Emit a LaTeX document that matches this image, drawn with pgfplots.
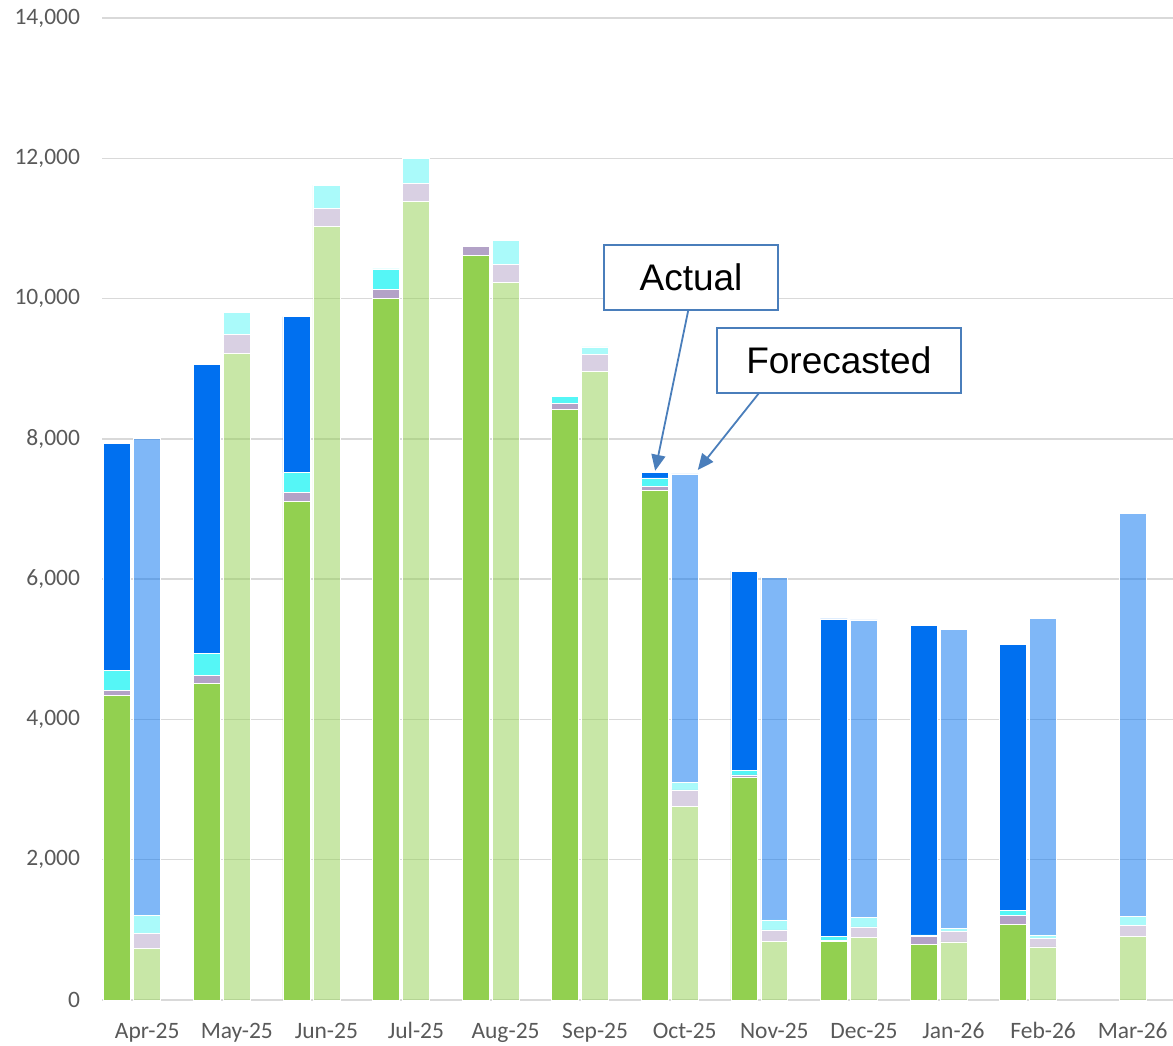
\documentclass[border=0pt]{standalone}
\usepackage{fontspec}
\setmainfont{Carlito}
\newfontfamily\arialfont{Liberation Sans}
\usepackage{pgfplots}
\pgfplotsset{compat=1.18}
\usepackage{pgfplotstable}
\usetikzlibrary{arrows.meta}

\definecolor{cGreen}{HTML}{92D050}
\definecolor{cPurple}{HTML}{B3A2C7}
\definecolor{cCyan}{HTML}{55F6F6}
\definecolor{cBlue}{HTML}{0070F0}
\definecolor{gridgray}{HTML}{D9D9D9}
\definecolor{labelgray}{HTML}{595959}
\definecolor{calloutblue}{HTML}{4A7EBB}

% actual, Apr-25 .. Feb-26
\pgfplotstableread{
i  g     p    c    b
0  4339  70   285  3243
1  4515  109  318  4125
2  7104  129  285  2224
3  10003 133  286  0
4  10617 123  0    0
5  8421  81   105  0
6  7267  52   123  81
7  3175  33   71   2837
8  836   19   48   4529
9  789   114  24   4414
10 1074  128  76   3797
}\actual

% forecasted, Apr-25 .. Mar-26
\pgfplotstableread{
i  g     p    c    b
0  732   214  266  6800
1  9214  272  318  0
2  11030 261  328  0
3  11381 257  362  0
4  10226 257  342  0
5  8963  242  105  0
6  2761  233  105  4400
7  836   162  143  4889
8  889   152  138  4239
9  827   152  43   4267
10 756   123  48   4519
11 908   161  119  5750
}\forecast

\pgfplotsset{
  base/.style={
    scale only axis, width=535.3pt, height=491pt,
    at={(0,0)}, anchor=south west,
    xmin=-0.5, xmax=11.45, ymin=0, ymax=14000,
    ybar stacked, bar width=0.3,
  },
  seg/.style={fill=#1, draw=white, line width=0.3pt},
}

\begin{document}
\begin{tikzpicture}
  \begin{axis}[
      base,
      axis line style={draw=none},
      ymajorgrids,
      grid style={gridgray, line width=0.75pt},
      xtick={0,...,11},
      xticklabels={Apr-25,May-25,Jun-25,Jul-25,Aug-25,Sep-25,Oct-25,Nov-25,Dec-25,Jan-26,Feb-26,Mar-26},
      ytick={0,2000,...,14000},
      major tick length=0pt,
      tick label style={font=\fontsize{11.75}{14}\selectfont, text=labelgray},
      yticklabel style={anchor=east, inner sep=0pt, xshift=-11pt},
      xticklabel style={anchor=base, inner sep=0pt, yshift=-19pt},
      scaled y ticks=false,
      /pgf/number format/.cd, 1000 sep={,}, assume math mode=true,
    ]
    \addplot[seg=cGreen]  table[x expr=\thisrow{i}-0.335, y=g] {\actual};
    \addplot[seg=cPurple] table[x expr=\thisrow{i}-0.335, y=p] {\actual};
    \addplot[seg=cCyan]   table[x expr=\thisrow{i}-0.335, y=c] {\actual};
    \addplot[seg=cBlue]   table[x expr=\thisrow{i}-0.335, y=b] {\actual};
  \end{axis}

  \begin{axis}[base, hide axis]
    \addplot[seg=cGreen,  fill opacity=0.5] table[x=i, y=g] {\forecast};
    \addplot[seg=cPurple, fill opacity=0.5] table[x=i, y=p] {\forecast};
    \addplot[seg=cCyan,   fill opacity=0.5] table[x=i, y=c] {\forecast};
    \addplot[seg=cBlue,   fill opacity=0.5] table[x=i, y=b] {\forecast};

    % callouts
    \draw[calloutblue, line width=0.9pt, -{Triangle[length=8pt,width=7pt]}]
      (axis cs:6.04,9837) -- (axis cs:5.67,7545);
    \draw[calloutblue, line width=0.9pt, -{Triangle[length=8pt,width=7pt]}]
      (axis cs:6.83,8654) -- (axis cs:6.146,7556);
    \node[draw=calloutblue, fill=white, line width=0.75pt, inner sep=0pt,
          minimum width=87pt, minimum height=32.5pt,
          font=\arialfont\fontsize{18.5}{22}\selectfont]
      at (axis cs:6.07,10300) {Actual};
    \node[draw=calloutblue, fill=white, line width=0.75pt, inner sep=0pt,
          minimum width=122pt, minimum height=32.5pt,
          font=\arialfont\fontsize{18.5}{22}\selectfont]
      at (axis cs:7.72,9117) {Forecasted};
  \end{axis}

  \pgfresetboundingbox
  \useasboundingbox (-51.2pt,-22.5pt) rectangle (535.3pt,500pt);
\end{tikzpicture}
\end{document}
